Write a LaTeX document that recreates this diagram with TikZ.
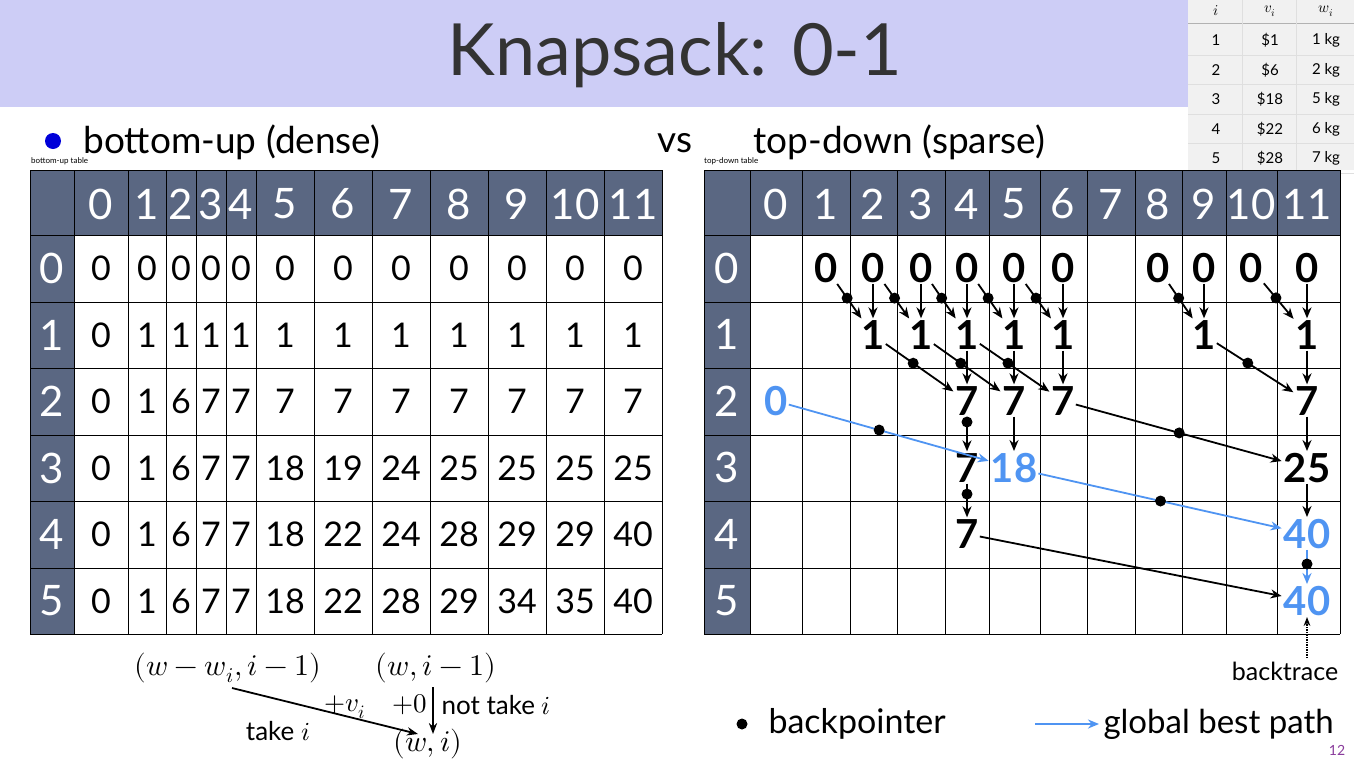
\documentclass[tikz,border=0pt]{standalone}
\usepackage{fontspec}
\setmainfont{Lato}
\usepackage{unicode-math}
\usetikzlibrary{arrows.meta}
\definecolor{band}{HTML}{CDCDF6}
\definecolor{slate}{HTML}{5A6782}
\definecolor{best}{HTML}{4F94F2}
\definecolor{tabbg}{HTML}{F1F1F1}
\definecolor{pnum}{HTML}{8A3C9C}
\tikzset{
  val/.style={font=\fontsize{40}{40}\selectfont\bfseries, inner sep=1pt},
  hdr/.style={font=\fontsize{42}{42}\selectfont, text=white},
  bp/.style={line width=1.8pt, -{Stealth[length=11pt,width=9pt]}, shorten >=1pt},
  gb/.style={bp, best},
  dot/.style={circle, fill=black, inner sep=0pt, minimum size=11pt},
  tab/.style={font=\fontsize{15}{15}\selectfont\rmfamily}
}
\begin{document}
\begin{tikzpicture}[x=1pt, y=-1pt]
\useasboundingbox (0,0) rectangle (1354,766);
\fill[white] (0,0) rectangle (1354,766);
% Titulo
\fill[band] (0,0) rectangle (1354,107);
\node[font=\fontsize{72}{72}\selectfont, text=black!80] (title) at (675,55) {Knapsack: 0-1};
% Tabla de objetos
\fill[tabbg] (1188,0) rectangle (1354,170);
\draw[gray!60] (1188,23) -- (1354,23);
\draw[gray!25] (1242,0) -- (1242,170) (1296,0) -- (1296,170);
\foreach \i/\v/\w [count=\k from 0] in {{$i$}/{$v_i$}/{$w_i$},1/\$1/1 kg,2/\$6/2 kg,3/\$18/5 kg,4/\$22/6 kg,5/\$28/7 kg} {
  \pgfmathsetmacro\yy{\k==0 ? 11 : 11+29.5*\k}
  \node[tab] (ti-\k) at (1216,\yy) {\i};
  \node[tab] (tv-\k) at (1270,\yy) {\v};
  \node[tab] (tw-\k) at (1326,\yy) {\w};
  \ifnum\k>0 \draw[gray!25] (1188,\yy+14.5) -- (1354,\yy+14.5); \fi
}
% Encabezados
\fill[blue!85!black] (53,141) circle (8);
\node[font=\fontsize{37}{37}\selectfont, anchor=west] (bu) at (80,142) {bottom-up (dense)};
\node[font=\fontsize{37}{37}\selectfont] (vs) at (675,143) {vs};
\node[font=\fontsize{37}{37}\selectfont, anchor=west] (td) at (750,142) {top-down (sparse)};
\node[font=\fontsize{8}{8}\selectfont, anchor=west, inner sep=0pt] (bulab) at (31,161) {bottom-up table};
\node[font=\fontsize{8}{8}\selectfont, anchor=west, inner sep=0pt] (tdlab) at (704,161) {top-down table};
% Tabla densa
\fill[slate] (30,170) rectangle (662,235);
\fill[slate] (30,170) rectangle (74,634);
\foreach \x in {74,128,166,196,226,256,314,372,430,488,546,604,662}
  \draw[thick] (\x,170) -- (\x,634);
\draw[thick] (30,170) -- (30,634);
\foreach \y in {170,235,302,368,435,501,568,634}
  \draw[thick] (30,\y) -- (662,\y);
\foreach \t [count=\c from 0] in {0,1,2,3,4,5,6,7,8,9,10,11} {
  \pgfmathsetmacro\xx{{101,147,181,211,241,285,343,401,459,517,575,633}[\c]}
  \node[hdr] (LH-\c) at (\xx,204) {\t};
}
\foreach \r/\row in {0/{0,0,0,0,0,0,0,0,0,0,0,0},
                     1/{0,1,1,1,1,1,1,1,1,1,1,1},
                     2/{0,1,6,7,7,7,7,7,7,7,7,7},
                     3/{0,1,6,7,7,18,19,24,25,25,25,25},
                     4/{0,1,6,7,7,18,22,24,28,29,29,40},
                     5/{0,1,6,7,7,18,22,28,29,34,35,40}} {
  \pgfmathsetmacro\yy{{268,335,401,468,534,601}[\r]}
  \node[hdr] (LR-\r) at (52,\yy) {\r};
  \foreach \v [count=\c from 0] in \row {
    \pgfmathsetmacro\xx{{101,147,181,211,241,285,343,401,459,517,575,633}[\c]}
    \node[val, font=\fontsize{34}{34}\selectfont] (L-\c-\r) at (\xx,\yy) {\v};
  }
}
% Tabla dispersa
\fill[slate] (704,170) rectangle (1340,235);
\fill[slate] (704,170) rectangle (750,634);
\foreach \x in {704,750,802,850,897,945,989,1040,1087,1135,1182,1226,1277,1340}
  \draw[thick] (\x,170) -- (\x,634);
\foreach \y in {170,235,302,368,435,501,568,634}
  \draw[thick] (704,\y) -- (1340,\y);
\foreach \x [count=\c from 0] in {776,826,873,921,967,1014,1063,1111,1158,1204,1251,1307} {
  \node[hdr] (RH-\c) at (\x,204) {\c};
  \foreach \y [count=\r from 0] in {268,335,401,468,534,601}
    \coordinate (P-\c-\r) at (\x,\y);
}
\foreach \r in {0,...,5}
  \node[hdr] (RR-\r) at (727,{268+66.6*\r}) {\r};
\foreach \c in {1,2,3,4,5,6,8,9,10,11}
  \node[val] (R-\c-0) at (P-\c-0) {0};
\foreach \c in {2,3,4,5,6,9,11}
  \node[val] (R-\c-1) at (P-\c-1) {1};
\foreach \c in {4,5,6,11}
  \node[val] (R-\c-2) at (P-\c-2) {7};
\node[val, best] (R-0-2) at (P-0-2) {0};
\node[val] (R-4-3) at (P-4-3) {7};
\node[val, best] (R-5-3) at (P-5-3) {18};
\node[val] (R-11-3) at (P-11-3) {25};
\node[val] (R-4-4) at (P-4-4) {7};
\node[val, best] (R-11-4) at (P-11-4) {40};
\node[val, best] (R-11-5) at (P-11-5) {40};
% Fila 1
\foreach \a/\b in {1/2,2/3,3/4,4/5,5/6,8/9,10/11} {
  \draw[bp] (R-\a-0) -- node[dot, pos=.4] {} (R-\b-1);
  \draw[bp] (R-\b-0) -- (R-\b-1);
}
% Fila 2
\foreach \a/\b in {2/4,3/5,4/6,9/11} {
  \draw[bp] (R-\a-1) -- node[dot, pos=.4] {} (R-\b-2);
  \draw[bp] (R-\b-1) -- (R-\b-2);
}
% Filas 3 a 5
\draw[bp] (R-4-2) -- node[dot, pos=.15] {} (R-4-3);
\draw[bp] (R-5-2) -- (R-5-3);
\draw[gb] (R-0-2) -- node[dot, pos=.45] {} (R-5-3);
\draw[bp] (R-6-2) -- node[dot, pos=.5] {} (R-11-3);
\draw[bp] (R-11-2) -- (R-11-3);
\draw[bp] (R-4-3) -- node[dot, pos=.3] {} (R-4-4);
\draw[gb] (R-5-3) -- node[dot, pos=.5] {} (R-11-4);
\draw[bp] (R-11-3) -- (R-11-4);
\draw[gb] (R-11-4) -- node[dot, pos=.4] {} (R-11-5);
\draw[bp] (R-4-4) -- (R-11-5);
% Backtrace
\node[font=\fontsize{25}{25}\selectfont] (bt) at (1285,671) {backtrace};
\draw[line width=1.5pt, densely dotted, -{Stealth[length=9pt]}] (bt.north -| R-11-5) -- (R-11-5);
% Leyenda
\node[dot] (ldot) at (742,724) {};
\node[font=\fontsize{34}{34}\selectfont, anchor=west] (lbp) at (765,724) {backpointer};
\coordinate (gs) at (1035,724);
\node[font=\fontsize{33}{33}\selectfont, anchor=west] (lgb) at (1100,724) {global best path};
\draw[gb] (gs) -- (lgb.west);
\node[font=\fontsize{14}{14}\selectfont, text=pnum] (page) at (1337,750) {12};
% Recurrencia
\node[font=\fontsize{30}{30}\selectfont] (src1) at (228,668) {$(w-w_i, i-1)$};
\node[font=\fontsize{30}{30}\selectfont] (src2) at (436,668) {$(w, i-1)$};
\node[font=\fontsize{30}{30}\selectfont] (dst) at (428,744) {$(w, i)$};
\coordinate (a0) at (232,688);
\coordinate (a1) at (418,734);
\draw[line width=1.8pt, -{Stealth[length=11pt]}] (a0) -- (a1);
\coordinate (b0) at (433,687);
\coordinate (b1) at (433,734);
\draw[line width=1.8pt, -{Stealth[length=11pt]}] (b0) -- (b1);
\node[font=\fontsize{27}{27}\selectfont] (pv) at (345,707) {$+v_i$};
\node[font=\fontsize{27}{27}\selectfont, anchor=east] (pz) at (431,705) {$+0$};
\node[font=\fontsize{26}{26}\selectfont, anchor=west] (nt) at (438,705) {not take $i$};
\node[font=\fontsize{26}{26}\selectfont] (tk) at (278,731) {take $i$};
\end{tikzpicture}
\end{document}
